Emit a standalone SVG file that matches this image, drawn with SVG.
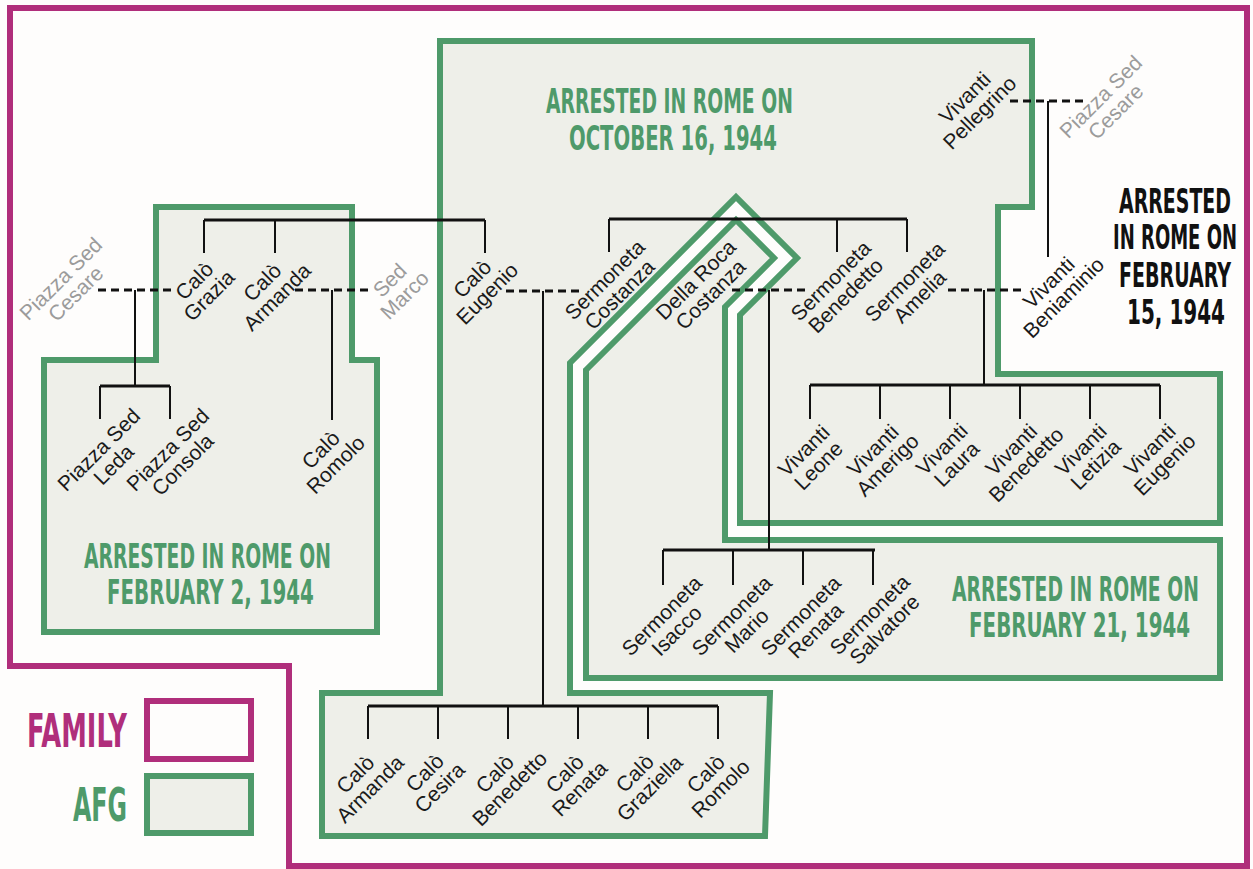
<svg xmlns="http://www.w3.org/2000/svg" width="1253" height="869" viewBox="0 0 1253 869">
<style>
.afg{fill:#EEEFE9;stroke:#4E9A6A;stroke-width:6;stroke-linejoin:miter}
.fam{fill:none;stroke:#B02E7B;stroke-width:6}
.lb{font-family:"Liberation Sans",Arial,sans-serif;font-size:21px;fill:#1a1a1a;text-anchor:middle}
.gr{fill:#9B9B9B}
.tt{font-family:"Liberation Sans Narrow","DejaVu Sans Condensed","Liberation Sans",sans-serif;font-weight:bold;font-size:33px;fill:#4E9A6A}
.bk{fill:#111}
.mg{fill:#B02E7B}
.lg{font-size:47px}
.bar{stroke:#111;stroke-width:3;fill:none}
.ln{stroke:#111;stroke-width:2;fill:none}
.ds{stroke:#111;stroke-width:3;fill:none;stroke-dasharray:8 5}
</style>
<rect x="0" y="0" width="1253" height="869" fill="#FEFDFC"/>
<g id="family-frame"><path class="fam" d="M10,8 H1247 V866 H289 V666 H10 Z"/></g>
<g id="afg-feb2"><path class="afg" d="M156,207 H352 V360 H377 V632 H44 V360 H156 Z"/></g>
<g id="afg-oct16"><path class="afg" d="M440,41 H1032 V207 H998 V374 H1220 V523 H740 V315 L797,258 L736,197 L570,363 V693 H770 L765,836 H322 V693 H440 Z"/></g>
<g id="afg-feb21"><path class="afg" d="M586,370 L736,220 L774,258 L725,307 V540 H1220 V678 H586 Z"/></g>

<g id="connectors">
<path class="bar" d="M204,220 H485"/>
<path class="ln" d="M204,220 V253 M275,220 V253 M485,220 V253"/>
<path class="ds" d="M98,290 H173"/>
<path class="ln" d="M135,290 V386"/>
<path class="bar" d="M100,386 H170"/>
<path class="ln" d="M100,386 V419 M170,386 V419"/>
<path class="ds" d="M295,290 H369"/>
<path class="ln" d="M332,290 V420"/>
<path class="ds" d="M506,291 H580"/>
<path class="ln" d="M543,291 V706"/>
<path class="bar" d="M368,706 H718"/>
<path class="ln" d="M368,706 V739 M438,706 V739 M508,706 V739 M578,706 V739 M648,706 V739 M718,706 V739"/>
<path class="bar" d="M609,219 H907"/>
<path class="ln" d="M609,219 V252 M837,219 V252 M907,219 V252"/>
<path class="ds" d="M732,290 H805"/>
<path class="ln" d="M769,290 V550"/>
<path class="bar" d="M663,550 H875"/>
<path class="ln" d="M663,550 V585 M733,550 V585 M803,550 V585 M873,550 V585"/>
<path class="ds" d="M948,290 H1022"/>
<path class="ln" d="M984,290 V385"/>
<path class="bar" d="M810,385 H1160"/>
<path class="ln" d="M810,385 V419 M880,385 V419 M950,385 V419 M1020,385 V419 M1090,385 V419 M1160,385 V419"/>
<path class="ds" d="M1010,101 H1085"/>
<path class="ln" d="M1048,101 V257"/>
</g>

<g id="n-piazza-cesare-left"><text class="lb gr" transform="translate(68,286) rotate(-45)"><tspan x="0" y="-3">Piazza Sed</tspan><tspan x="0" y="18">Cesare</tspan></text></g>
<g id="n-calo-grazia"><text class="lb" transform="translate(201.5,288) rotate(-45)"><tspan x="0" y="-3">Calò</tspan><tspan x="0" y="18">Grazia</tspan></text></g>
<g id="n-calo-armanda"><text class="lb" transform="translate(269.5,289.5) rotate(-45)"><tspan x="0" y="-3">Calò</tspan><tspan x="0" y="18">Armanda</tspan></text></g>
<g id="n-sed-marco"><text class="lb gr" transform="translate(397,287.5) rotate(-45)"><tspan x="0" y="-3">Sed</tspan><tspan x="0" y="18">Marco</tspan></text></g>
<g id="n-piazza-leda"><text class="lb" transform="translate(106,457) rotate(-45)"><tspan x="0" y="-3">Piazza Sed</tspan><tspan x="0" y="18">Leda</tspan></text></g>
<g id="n-piazza-consola"><text class="lb" transform="translate(175,457) rotate(-45)"><tspan x="0" y="-3">Piazza Sed</tspan><tspan x="0" y="18">Consola</tspan></text></g>
<g id="n-calo-romolo-1"><text class="lb" transform="translate(328,457) rotate(-45)"><tspan x="0" y="-3">Calò</tspan><tspan x="0" y="18">Romolo</tspan></text></g>
<g id="n-calo-eugenio"><text class="lb" transform="translate(479.5,286) rotate(-45)"><tspan x="0" y="-3">Calò</tspan><tspan x="0" y="18">Eugenio</tspan></text></g>
<g id="n-sermoneta-costanza"><text class="lb" transform="translate(612,287) rotate(-45)"><tspan x="0" y="-3">Sermoneta</tspan><tspan x="0" y="18">Costanza</tspan></text></g>
<g id="n-dellaroca-costanza"><text class="lb" transform="translate(703,287) rotate(-45)"><tspan x="0" y="-3">Della Roca</tspan><tspan x="0" y="18">Costanza</tspan></text></g>
<g id="n-sermoneta-benedetto"><text class="lb" transform="translate(838,288) rotate(-45)"><tspan x="0" y="-3">Sermoneta</tspan><tspan x="0" y="18">Benedetto</tspan></text></g>
<g id="n-sermoneta-amelia"><text class="lb" transform="translate(912,289) rotate(-45)"><tspan x="0" y="-3">Sermoneta</tspan><tspan x="0" y="18">Amelia</tspan></text></g>
<g id="n-vivanti-pellegrino"><text class="lb" transform="translate(972,105) rotate(-45)"><tspan x="0" y="-3">Vivanti</tspan><tspan x="0" y="18">Pellegrino</tspan></text></g>
<g id="n-piazza-cesare-right"><text class="lb gr" transform="translate(1108,104) rotate(-45)"><tspan x="0" y="-3">Piazza Sed</tspan><tspan x="0" y="18">Cesare</tspan></text></g>
<g id="n-vivanti-beniaminio"><text class="lb" transform="translate(1056,290) rotate(-45)"><tspan x="0" y="-3">Vivanti</tspan><tspan x="0" y="18">Beniaminio</tspan></text></g>
<g id="n-vivanti-leone"><text class="lb" transform="translate(811,458) rotate(-45)"><tspan x="0" y="-3">Vivanti</tspan><tspan x="0" y="18">Leone</tspan></text></g>
<g id="n-vivanti-amerigo"><text class="lb" transform="translate(880,457.5) rotate(-45)"><tspan x="0" y="-3">Vivanti</tspan><tspan x="0" y="18">Amerigo</tspan></text></g>
<g id="n-vivanti-laura"><text class="lb" transform="translate(949,456.5) rotate(-45)"><tspan x="0" y="-3">Vivanti</tspan><tspan x="0" y="18">Laura</tspan></text></g>
<g id="n-vivanti-benedetto"><text class="lb" transform="translate(1018.5,457) rotate(-45)"><tspan x="0" y="-3">Vivanti</tspan><tspan x="0" y="18">Benedetto</tspan></text></g>
<g id="n-vivanti-letizia"><text class="lb" transform="translate(1088,457) rotate(-45)"><tspan x="0" y="-3">Vivanti</tspan><tspan x="0" y="18">Letizia</tspan></text></g>
<g id="n-vivanti-eugenio"><text class="lb" transform="translate(1157,457) rotate(-45)"><tspan x="0" y="-3">Vivanti</tspan><tspan x="0" y="18">Eugenio</tspan></text></g>
<g id="n-sermoneta-isacco"><text class="lb" transform="translate(669,623) rotate(-45)"><tspan x="0" y="-3">Sermoneta</tspan><tspan x="0" y="18">Isacco</tspan></text></g>
<g id="n-sermoneta-mario"><text class="lb" transform="translate(739,623) rotate(-45)"><tspan x="0" y="-3">Sermoneta</tspan><tspan x="0" y="18">Mario</tspan></text></g>
<g id="n-sermoneta-renata"><text class="lb" transform="translate(808,623) rotate(-45)"><tspan x="0" y="-3">Sermoneta</tspan><tspan x="0" y="18">Renata</tspan></text></g>
<g id="n-sermoneta-salvatore"><text class="lb" transform="translate(877,622) rotate(-45)"><tspan x="0" y="-3">Sermoneta</tspan><tspan x="0" y="18">Salvatore</tspan></text></g>
<g id="n-calo-armanda-2"><text class="lb" transform="translate(362.5,781.5) rotate(-45)"><tspan x="0" y="-3">Calò</tspan><tspan x="0" y="18">Armanda</tspan></text></g>
<g id="n-calo-cesira"><text class="lb" transform="translate(432,780) rotate(-45)"><tspan x="0" y="-3">Calò</tspan><tspan x="0" y="18">Cesira</tspan></text></g>
<g id="n-calo-benedetto"><text class="lb" transform="translate(502,781) rotate(-45)"><tspan x="0" y="-3">Calò</tspan><tspan x="0" y="18">Benedetto</tspan></text></g>
<g id="n-calo-renata"><text class="lb" transform="translate(572,781) rotate(-45)"><tspan x="0" y="-3">Calò</tspan><tspan x="0" y="18">Renata</tspan></text></g>
<g id="n-calo-graziella"><text class="lb" transform="translate(642,780.5) rotate(-45)"><tspan x="0" y="-3">Calò</tspan><tspan x="0" y="18">Graziella</tspan></text></g>
<g id="n-calo-romolo-2"><text class="lb" transform="translate(713,781) rotate(-45)"><tspan x="0" y="-3">Calò</tspan><tspan x="0" y="18">Romolo</tspan></text></g>

<g id="title-oct16">
<text class="tt" transform="translate(546,113) scale(0.771,1)" textLength="320.2" lengthAdjust="spacingAndGlyphs">ARRESTED IN ROME ON</text>
<text class="tt" transform="translate(569,150) scale(0.838,1)" textLength="248.1" lengthAdjust="spacingAndGlyphs">OCTOBER 16, 1944</text>
</g>
<g id="title-feb2">
<text class="tt" transform="translate(84,568) scale(0.771,1)" textLength="320.2" lengthAdjust="spacingAndGlyphs">ARRESTED IN ROME ON</text>
<text class="tt" transform="translate(107,604) scale(0.834,1)" textLength="248.1" lengthAdjust="spacingAndGlyphs">FEBRUARY 2, 1944</text>
</g>
<g id="title-feb21">
<text class="tt" transform="translate(952,601) scale(0.771,1)" textLength="320.2" lengthAdjust="spacingAndGlyphs">ARRESTED IN ROME ON</text>
<text class="tt" transform="translate(969,637) scale(0.840,1)" textLength="263.2" lengthAdjust="spacingAndGlyphs">FEBRUARY 21, 1944</text>
</g>
<g id="title-feb15">
<text class="tt bk" transform="translate(1119,213) scale(0.753,1)" textLength="148.8" lengthAdjust="spacingAndGlyphs">ARRESTED</text>
<text class="tt bk" transform="translate(1113,249) scale(0.757,1)" textLength="163.9" lengthAdjust="spacingAndGlyphs">IN ROME ON</text>
<text class="tt bk" transform="translate(1119,287) scale(0.745,1)" textLength="150.3" lengthAdjust="spacingAndGlyphs">FEBRUARY</text>
<text class="tt bk" transform="translate(1127,324) scale(0.931,1)" textLength="105.3" lengthAdjust="spacingAndGlyphs">15, 1944</text>
</g>
<g id="legend">
<text class="tt mg lg" transform="translate(27,747) scale(0.697,1)" textLength="143.4" lengthAdjust="spacingAndGlyphs">FAMILY</text>
<rect x="147" y="701" width="104" height="58" fill="#FEFDFC" stroke="#B02E7B" stroke-width="6"/>
<text class="tt lg" transform="translate(73,821) scale(0.664,1)" textLength="81.4" lengthAdjust="spacingAndGlyphs">AFG</text>
<rect class="afg" x="147" y="776" width="104" height="57"/>
</g>
</svg>
